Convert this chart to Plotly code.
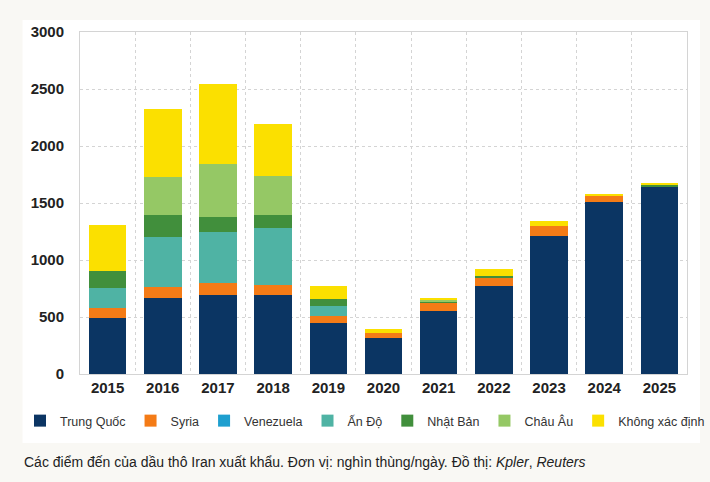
import plotly.graph_objects as go

years = ["2015", "2016", "2017", "2018", "2019", "2020", "2021", "2022", "2023", "2024", "2025"]
trung_quoc = [495, 670, 695, 690, 450, 313, 555, 770, 1210, 1505, 1645]
syria = [80, 90, 100, 95, 60, 50, 65, 70, 90, 55, 0]
venezuela = [0, 0, 0, 0, 0, 0, 0, 0, 0, 0, 0]
an_do = [180, 445, 450, 500, 85, 0, 0, 0, 0, 0, 0]
nhat_ban = [145, 190, 130, 110, 60, 0, 20, 20, 0, 0, 10]
chau_au = [0, 335, 470, 340, 0, 0, 15, 0, 0, 0, 0]
khong_xac_dinh = [405, 595, 695, 455, 120, 30, 10, 60, 45, 20, 20]

series = [
    ("Trung Quốc", trung_quoc, "#0b3563"),
    ("Syria", syria, "#f47b16"),
    ("Venezuela", venezuela, "#1e9fcf"),
    ("Ấn Độ", an_do, "#4fb3a4"),
    ("Nhật Bản", nhat_ban, "#418f3c"),
    ("Châu Âu", chau_au, "#95c865"),
    ("Không xác định", khong_xac_dinh, "#fbe000"),
]
y_ticks = [0, 500, 1000, 1500, 2000, 2500, 3000]
caption = "Các điểm đến của dầu thô Iran xuất khẩu. Đơn vị: nghìn thùng/ngày. Đồ thị: <i>Kpler</i>, <i>Reuters</i>"

fig = go.Figure()
for name, vals, color in series:
    fig.add_trace(go.Bar(x=years, y=vals, name=name, marker=dict(color=color, line=dict(width=0))))

W, H = 710, 482
L, R, T, B = 79.5, 23, 32, 108
pw, ph = W - L - R, H - T - B

def px_x(x):
    return (x - L) / pw

def px_y(y):
    return (H - B - y) / ph

fig.update_layout(
    width=W, height=H,
    margin=dict(l=L, r=R, t=T, b=B, pad=0),
    paper_bgcolor="#f9f8f4",
    plot_bgcolor="white",
    barmode="stack",
    bargap=0.32,
    showlegend=True,
    legend=dict(
        orientation="h", traceorder="normal",
        x=px_x(35), xanchor="left", y=px_y(421), yanchor="middle",
        font=dict(family="Liberation Sans", size=12.5, color="#333333"),
        bgcolor="rgba(0,0,0,0)", itemwidth=30,
    ),
    shapes=[dict(type="rect", xref="paper", yref="paper", layer="below",
                 x0=px_x(22), x1=px_x(700), y0=px_y(443), y1=px_y(20),
                 fillcolor="white", line=dict(width=0))],
    annotations=[dict(text=caption, xref="paper", yref="paper", x=px_x(21), y=px_y(462),
                      xanchor="left", yanchor="middle", showarrow=False,
                      font=dict(family="Liberation Sans", size=14, color="#222222"))],
)
fig.update_xaxes(
    type="category", showgrid=True, gridcolor="#d4d4d4", griddash="dot", gridwidth=1,
    tickson="boundaries", showline=True, linecolor="#d4d4d4", mirror=True,
    ticks="outside", ticklen=13, tickcolor="rgba(0,0,0,0)",
    tickfont=dict(family="Liberation Sans", size=15, color="#222222", weight="bold"),
)
fig.update_yaxes(
    range=[0, 3000], tickvals=y_ticks, showgrid=True, gridcolor="#d4d4d4", griddash="dot",
    showline=True, linecolor="#d4d4d4", mirror=True, zeroline=False,
    ticks="outside", ticklen=12, tickcolor="rgba(0,0,0,0)",
    tickfont=dict(family="Liberation Sans", size=15, color="#222222", weight="bold"),
)

fig.write_html("out.html")
